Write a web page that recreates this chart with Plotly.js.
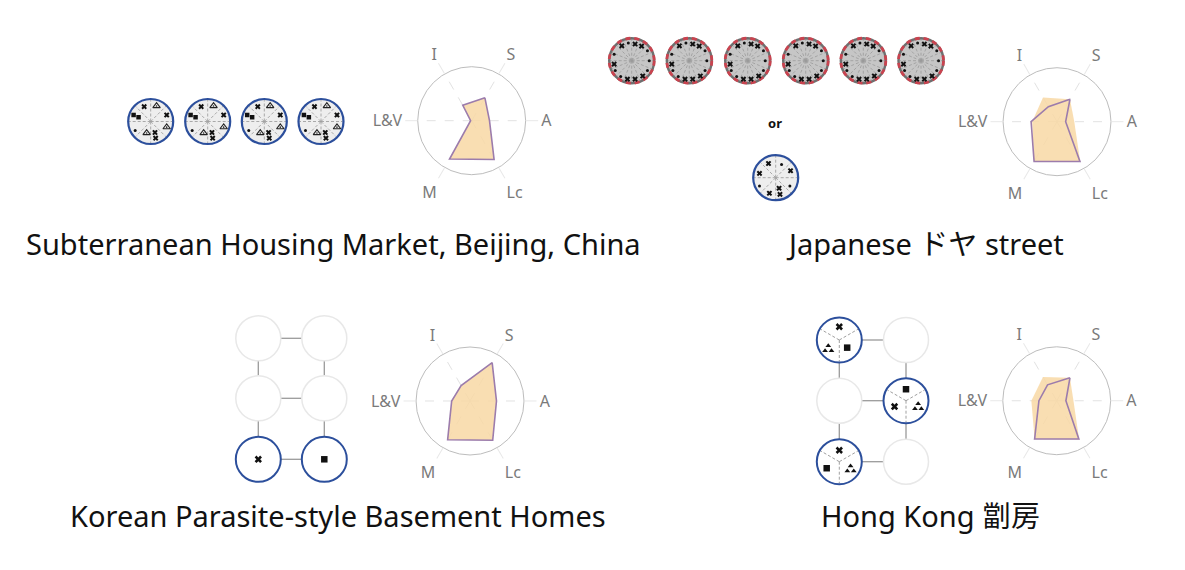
<!DOCTYPE html>
<html><head><meta charset="utf-8">
<script src="https://cdn.plot.ly/plotly-3.0.1.min.js"></script>
<style>body{margin:0;background:#fff}#chart{width:1185px;height:570px}</style>
</head><body><div id="chart"></div>
<script>
// ---- radar data ----
const axisLabels = ['S','A','Lc','M','L&V','I'];
const beijingArea = [0.49,0.33,0.83,0.82,0.02,0.33];
const beijingLine = [0.49,0.33,0.83,0.82,0.02,0.33];
const japanArea   = [0.48,0.32,0.86,0.85,0.46,0.52];
const japanLine   = [0.48,0.16,0.85,0.85,0.48,0.32];
const koreaArea   = [0.82,0.49,0.84,0.83,0.34,0.33];
const koreaLine   = [0.82,0.49,0.84,0.83,0.34,0.33];
const hkArea      = [0.49,0.31,0.83,0.82,0.47,0.51];
const hkLine      = [0.49,0.17,0.82,0.82,0.33,0.34];
const caseTitles  = ['Subterranean Housing Market, Beijing, China','Japanese ドヤ street','Korean Parasite-style Basement Homes','Hong Kong 劏房'];

// ---- icon contents (relative marker placement in each room icon) ----
const beijingX   = [[-0.29,-0.66],[0.71,-0.29],[0.19,0.49],[0.22,0.74]];
const beijingSq  = [[-0.76,-0.29],[-0.54,-0.19]];
const beijingDot = [[-0.69,0.40]];
const beijingTri = [[0.26,-0.69],[-0.18,0.51],[0.71,0.25]];
const japanX   = [[-0.44,-0.66],[0.15,-0.74],[0.44,-0.65],[0.49,0.68],[0.15,0.82],[-0.19,0.82],[-0.78,0.15]];
const japanDot = [[-0.15,-0.79],[0.70,-0.44],[0.78,0.0],[0.70,0.44],[-0.49,0.70],[-0.73,0.44],[-0.78,-0.29]];
const orX   = [[-0.32,-0.63],[0.66,-0.31],[-0.72,-0.19],[0.15,0.47],[0.19,0.74],[-0.28,0.69]];
const orDot = [[0.26,-0.59],[-0.72,0.37],[0.63,0.37]];

// ---- layout helpers ----
const R = 22.5;
const BLUE = '#2c4f9c';
const shapes = [];
const mk = {};
function circle(cx,cy,r,line,fill){shapes.push({type:'circle',xref:'x',yref:'y',layer:'below',x0:cx-r,x1:cx+r,y0:cy-r,y1:cy+r,line:line,fillcolor:fill||'rgba(0,0,0,0)'});}
function seg(x0,y0,x1,y1,line){shapes.push({type:'line',xref:'x',yref:'y',layer:'below',x0:x0,y0:y0,x1:x1,y1:y1,line:line});}
function spokes(cx,cy,n,line,angles){
  const a = angles || Array.from({length:n},(_,i)=>i*2*Math.PI/n);
  a.forEach(t=>seg(cx,cy,cx+R*0.96*Math.cos(t),cy-R*0.96*Math.sin(t),line));
}
function put(kind,cx,cy,list){mk[kind]=mk[kind]||{x:[],y:[]};list.forEach(p=>{mk[kind].x.push(cx+p[0]*R);mk[kind].y.push(cy+p[1]*R);});}
function putCluster(cx,cy,p){const bx=cx+p[0]*R, by=cy+p[1]*R;put('tcl',bx,by,[[-3.2/R,1.6/R],[3.2/R,1.6/R],[0,-3.4/R]]);}

const lightSpoke={color:'#a0a0a0',width:0.9,dash:'3px,2px'};
// Beijing icons
[150.7,207.7,264.3,321].forEach(cx=>{
  const cy=121.5;
  circle(cx,cy,R,{width:0},'#eeeeee');
  spokes(cx,cy,8,lightSpoke);
  circle(cx,cy,R,{color:BLUE,width:2.2});
  put('xs',cx,cy,beijingX);put('sqs',cx,cy,beijingSq);put('dot',cx,cy,beijingDot);put('tri',cx,cy,beijingTri);put('tdot',cx,cy,beijingTri);
});
// Japan icons
[631.7,689.3,747.7,805.7,863.3,921].forEach(cx=>{
  const cy=60.7;
  circle(cx,cy,R,{width:0},'#c6c6c6');
  spokes(cx,cy,16,{color:'#9a9a9a',width:0.8,dash:'3px,2px'});
  circle(cx,cy,R,{color:'#6f6f6f',width:2.4});
  circle(cx,cy,R,{color:'#c9434f',width:2.8,dash:'5px,4px'});
  put('xs',cx,cy,japanX);put('dot',cx,cy,japanDot);
});
// "or" alternative
(function(){const cx=775.7,cy=177.7;
  circle(cx,cy,R,{width:0},'#eeeeee');spokes(cx,cy,8,lightSpoke);circle(cx,cy,R,{color:BLUE,width:2.2});
  put('xs',cx,cy,orX);put('dot',cx,cy,orDot);})();

// Korean grid
const kCols=[258.3,324.3], kRows=[338.3,398.3,459.3];
const conn={color:'#9a9a9a',width:1.3};
kRows.forEach(y=>seg(kCols[0]+R,y,kCols[1]-R,y,conn));
kCols.forEach(x=>{seg(x,kRows[0]+R,x,kRows[1]-R,conn);seg(x,kRows[1]+R,x,kRows[2]-R,conn);});
kRows.forEach((y,ri)=>kCols.forEach(x=>{
  if(ri===2) circle(x,y,R,{color:BLUE,width:2},'#ffffff');
  else circle(x,y,R,{color:'#e8e8e8',width:1.5},'#ffffff');
}));
put('xl',kCols[0],kRows[2],[[0,0]]);put('sql',kCols[1],kRows[2],[[0,0]]);

// Hong Kong grid
const hCols=[839.3,906], hRows=[340,400.7,461.7];
hRows.forEach(y=>seg(hCols[0]+R,y,hCols[1]-R,y,conn));
hCols.forEach(x=>{seg(x,hRows[0]+R,x,hRows[1]-R,conn);seg(x,hRows[1]+R,x,hRows[2]-R,conn);});
const hBlue=[[0,0],[1,1],[0,2]];
const ySpokes=[Math.PI*5/6,Math.PI/6,-Math.PI/2];
hRows.forEach((y,ri)=>hCols.forEach((x,ci)=>{
  const blue = hBlue.some(b=>b[0]===ci&&b[1]===ri);
  if(blue){circle(x,y,R,{width:0},'#ffffff');spokes(x,y,3,{color:'#a0a0a0',width:1,dash:'3px,2px'},ySpokes);circle(x,y,R,{color:BLUE,width:2});}
  else circle(x,y,R,{color:'#e8e8e8',width:1.5},'#ffffff');
}));
put('xl',hCols[0],hRows[0],[[0,-0.59]]);putCluster(hCols[0],hRows[0],[-0.49,0.41]);put('sql',hCols[0],hRows[0],[[0.35,0.34]]);
put('sql',hCols[1],hRows[1],[[0,-0.51]]);put('xl',hCols[1],hRows[1],[[-0.51,0.26]]);putCluster(hCols[1],hRows[1],[0.54,0.29]);
put('xl',hCols[0],hRows[2],[[0,-0.51]]);put('sql',hCols[0],hRows[2],[[-0.56,0.29]]);putCluster(hCols[0],hRows[2],[0.5,0.34]);

const mstyle = {
  xs:{symbol:'x',size:5,color:'#111'},
  xl:{symbol:'x',size:6.5,color:'#111'},
  sqs:{symbol:'square',size:4.5,color:'#111'},
  sql:{symbol:'square',size:6.5,color:'#111'},
  dot:{symbol:'circle',size:3,color:'#111'},
  tri:{symbol:'triangle-up-open',size:6.5,color:'#222',line:{width:1.1,color:'#222'}},
  tdot:{symbol:'circle',size:1.6,color:'#222'},
  tcl:{symbol:'triangle-up',size:5,color:'#111'}
};
const traces = Object.keys(mk).map(k=>({type:'scatter',mode:'markers',x:mk[k].x,y:mk[k].y,marker:mstyle[k],hoverinfo:'skip',showlegend:false}));

const close = a => a.concat([a[0]]);
const thetas = close(axisLabels);
const radars = [[beijingArea,beijingLine],[japanArea,japanLine],[koreaArea,koreaLine],[hkArea,hkLine]];
radars.forEach((d,i)=>{
  const sp = i===0?'polar':'polar'+(i+1);
  traces.push({type:'scatterpolar',subplot:sp,r:close(d[0]),theta:thetas,fill:'toself',fillcolor:'rgba(248,216,165,0.85)',mode:'lines',line:{width:0,color:'rgba(0,0,0,0)'},hoverinfo:'skip',showlegend:false});
  traces.push({type:'scatterpolar',subplot:sp,r:close(d[1]),theta:thetas,mode:'lines',line:{width:1.6,color:'#9c7cac'},hoverinfo:'skip',showlegend:false});
});

function polar(xd,yd){
  return {domain:{x:xd,y:yd},bgcolor:'rgba(0,0,0,0)',
    radialaxis:{visible:false,range:[0,1]},
    angularaxis:{type:'category',categoryorder:'array',categoryarray:axisLabels,rotation:60,direction:'clockwise',
      linecolor:'#bdbdbd',linewidth:1,gridcolor:'#e2e2e2',griddash:'dash',ticks:'outside',ticklen:12,tickcolor:'#e8e8e8',
      tickfont:{family:'Noto Sans, sans-serif',size:16,color:'#7a7a7a'}}};
}

const annotations = [
  {text:caseTitles[0],x:333,y:243},
  {text:caseTitles[1],x:925,y:243},
  {text:caseTitles[2],x:338,y:515},
  {text:caseTitles[3],x:930,y:515}
].map(a=>Object.assign(a,{xref:'x',yref:'y',showarrow:false,font:{family:'Noto Sans, Noto Sans CJK JP, sans-serif',size:29,color:'#111'}}));
annotations.push({text:'<b>or</b>',x:775,y:123,xref:'x',yref:'y',showarrow:false,font:{family:'Noto Sans, sans-serif',size:13,color:'#111'}});

const layout = {
  width:1185,height:570,margin:{l:0,r:0,t:0,b:0},paper_bgcolor:'#fff',plot_bgcolor:'rgba(0,0,0,0)',
  xaxis:{range:[0,1185],visible:false,fixedrange:true},
  yaxis:{range:[570,0],visible:false,fixedrange:true},
  polar: polar([0.3525,0.4436],[0.6935,0.8830]),
  polar2:polar([0.8464,0.9376],[0.6918,0.8812]),
  polar3:polar([0.3511,0.4422],[0.2018,0.3912]),
  polar4:polar([0.8462,0.9373],[0.2023,0.3916]),
  shapes:shapes,annotations:annotations,showlegend:false
};
Plotly.newPlot('chart',traces,layout,{displayModeBar:false,staticPlot:true});
</script></body></html>
